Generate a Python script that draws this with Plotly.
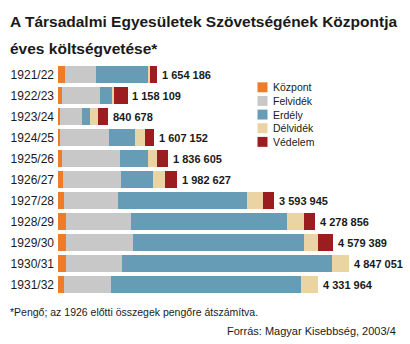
import plotly.graph_objects as go

# ---- data (millions of pengő) ----
years = ["1921/22", "1922/23", "1923/24", "1924/25", "1925/26", "1926/27",
         "1927/28", "1928/29", "1929/30", "1930/31", "1931/32"]
totals = [1654186, 1158109, 840678, 1607152, 1836605, 1982627,
          3593945, 4278856, 4579389, 4847051, 4331964]
kozpont = [0.118, 0.066, 0.034, 0.033, 0.066, 0.083, 0.100, 0.129, 0.128, 0.128, 0.095]
felvidek = [0.515, 0.629, 0.364, 0.820, 0.975, 0.965, 0.896, 1.082, 1.121, 0.945, 0.781]
erdely = [0.862, 0.205, 0.137, 0.426, 0.451, 0.530, 2.153, 2.609, 2.859, 3.495, 3.178]
delvidek = [0.045, 0.041, 0.139, 0.164, 0.158, 0.205, 0.267, 0.279, 0.221, 0.279, 0.278]
vedelem = [0.114, 0.220, 0.166, 0.164, 0.187, 0.199, 0.178, 0.184, 0.250, 0.000, 0.000]

series_names = ["Központ", "Felvidék", "Erdély", "Délvidék", "Védelem"]
series_vals = [kozpont, felvidek, erdely, delvidek, vedelem]
colors = ["#EE7D2B", "#C8C8C8", "#679CB6", "#EAD4A4", "#9C1D1F"]

title_lines = ["A Társadalmi Egyesületek Szövetségének Központja", "éves költségvetése*"]
footnote = "*Pengő; az 1926 előtti összegek pengőre átszámítva."
source = "Forrás: Magyar Kisebbség, 2003/4"

W, H = 410, 344
ML, MR, MT, MB = 58, 10, 63.5, 48.5
PW, PH = W - ML - MR, H - MT - MB

def px(xp):
    return (xp - ML) / PW

def py(yp):
    return (H - MB - yp) / PH

REG = "Liberation Sans, Arial, sans-serif"
INK = "#1a1a1a"

fig = go.Figure()
for name, vals, col in zip(series_names, series_vals, colors):
    fig.add_trace(go.Bar(y=years, x=vals, name=name, orientation="h",
                         marker=dict(color=col, line=dict(width=0)),
                         showlegend=False))

def fmt(v):
    return f"{v:,}".replace(",", " ")

annotations = []
for yr, t in zip(years, totals):
    annotations.append(dict(x=t / 1e6, y=yr, xref="x", yref="y", text=fmt(t),
                            showarrow=False, xanchor="left", xshift=3,
                            font=dict(family=REG, size=11, color=INK, weight="bold")))

# title lines
for txt, yc in zip(title_lines, [20.5, 47.5]):
    annotations.append(dict(x=px(8), y=py(yc), xref="paper", yref="paper", text=txt,
                            showarrow=False, xanchor="left", yanchor="middle",
                            font=dict(family=REG, size=15.5, color=INK, weight="bold")))

# manual legend
leg_y = [86.9, 100.6, 114.3, 128.0, 141.7]
shapes = []
for name, col, yc in zip(series_names, colors, leg_y):
    shapes.append(dict(type="rect", xref="paper", yref="paper",
                       x0=px(257.5), x1=px(267.5), y0=py(yc + 5), y1=py(yc - 5),
                       fillcolor=col, line=dict(width=0)))
    annotations.append(dict(x=px(270.5), y=py(yc), xref="paper", yref="paper",
                            text=name, showarrow=False, xanchor="left", yanchor="middle",
                            font=dict(family=REG, size=10.5, color=INK)))

annotations.append(dict(x=px(8), y=py(313), xref="paper", yref="paper", text=footnote,
                        showarrow=False, xanchor="left", yanchor="middle",
                        font=dict(family=REG, size=10.5, color=INK)))
annotations.append(dict(x=px(398), y=py(331.5), xref="paper", yref="paper", text=source,
                        showarrow=False, xanchor="right", yanchor="middle",
                        font=dict(family=REG, size=11, color=INK)))

fig.update_layout(
    width=W, height=H, barmode="stack", bargap=0.22,
    margin=dict(l=ML, r=MR, t=MT, b=MB, pad=0),
    paper_bgcolor="white", plot_bgcolor="white",
    xaxis=dict(range=[0, PW / 60.0], visible=False),
    yaxis=dict(autorange="reversed", showgrid=False, zeroline=False, showline=False,
               ticks="", ticklabelstandoff=3,
               tickfont=dict(family=REG, size=12, color=INK)),
    annotations=annotations, shapes=shapes,
)

fig.write_html("out.html")
